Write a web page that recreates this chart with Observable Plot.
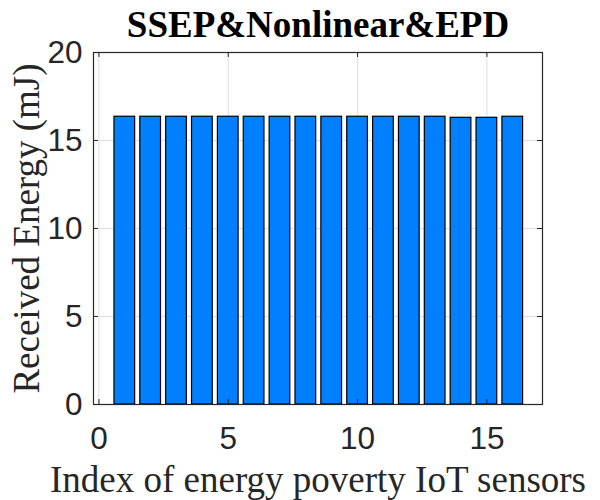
<!DOCTYPE html>
<html>
<head>
<meta charset="utf-8">
<script src="https://cdn.jsdelivr.net/npm/d3@7"></script>
<script src="https://cdn.jsdelivr.net/npm/@observablehq/plot@0.6"></script>
<style>
  html, body { margin: 0; padding: 0; background: #fff; }
</style>
</head>
<body>
<div id="chart"></div>
<script>
// Data
const sensorIndex = [1, 2, 3, 4, 5, 6, 7, 8, 9, 10, 11, 12, 13, 14, 15, 16];
const receivedEnergy = [16.35, 16.35, 16.35, 16.35, 16.35, 16.35, 16.35, 16.35, 16.35, 16.35, 16.35, 16.35, 16.35, 16.29, 16.29, 16.35];
const xTicks = [0, 5, 10, 15];
const yTicks = [0, 5, 10, 15, 20];
const titleText = "SSEP&Nonlinear&EPD";
const xLabelText = "Index of energy poverty IoT sensors";
const yLabelText = "Received Energy (mJ)";

const xDomain = [-0.21, 17.15];
const yDomain = [0, 20];
const barWidth = 0.8;

const rows = sensorIndex.map((k, i) => ({k, v: receivedEnergy[i]}));

const W = 600, H = 500;
const mL = 93, mR = 58, mT = 52, mB = 96;
const tickPx = 5;
const yTickLen = (yDomain[1] - yDomain[0]) * tickPx / (H - mT - mB);
const xTickLen = (xDomain[1] - xDomain[0]) * tickPx / (W - mL - mR);

const axisColor = "#262626";
const gridColor = "#dfdfdf";
const serif = "Liberation Serif, Times New Roman, serif";
const sans = "Liberation Sans, Arial, sans-serif";

const chart = Plot.plot({
  width: W,
  height: H,
  marginLeft: mL,
  marginRight: mR,
  marginTop: mT,
  marginBottom: mB,
  style: {background: "#fff", overflow: "visible"},
  x: {domain: xDomain},
  y: {domain: yDomain},
  marks: [
    Plot.gridX(xTicks, {stroke: gridColor, strokeOpacity: 1}),
    Plot.gridY(yTicks.slice(1, -1), {stroke: gridColor, strokeOpacity: 1}),
    Plot.rectY(rows, {
      x1: d => d.k - barWidth / 2,
      x2: d => d.k + barWidth / 2,
      y1: 0,
      y2: "v",
      fill: "#0080ff",
      stroke: "#000",
      strokeWidth: 1.2
    }),
    // inward ticks
    Plot.ruleX(xTicks, {x: d => d, y1: yDomain[0], y2: yDomain[0] + yTickLen, stroke: axisColor}),
    Plot.ruleX(xTicks, {x: d => d, y1: yDomain[1], y2: yDomain[1] - yTickLen, stroke: axisColor}),
    Plot.ruleY(yTicks, {y: d => d, x1: xDomain[0], x2: xDomain[0] + xTickLen, stroke: axisColor}),
    Plot.ruleY(yTicks, {y: d => d, x1: xDomain[1], x2: xDomain[1] - xTickLen, stroke: axisColor}),
    Plot.frame({stroke: axisColor, strokeWidth: 1.2}),
    Plot.axisX(xTicks, {
      tickSize: 0, tickPadding: 22, label: null,
      fontSize: 31.5, fontFamily: sans, fill: axisColor
    }),
    Plot.axisY(yTicks, {
      tickSize: 0, tickPadding: 11, label: null,
      fontSize: 31.5, fontFamily: sans, fill: axisColor
    }),
    Plot.text([titleText], {
      frameAnchor: "top", dy: -27, text: d => d, textAnchor: "middle", lineAnchor: "middle",
      fontSize: 37, fontWeight: "bold", fontFamily: serif, fill: "#000"
    }),
    Plot.text([xLabelText], {
      frameAnchor: "bottom", dy: 76, text: d => d, textAnchor: "middle", lineAnchor: "middle",
      fontSize: 37, fontFamily: serif, fill: axisColor
    }),
    Plot.text([yLabelText], {
      frameAnchor: "left", dx: -66, rotate: -90, text: d => d, textAnchor: "middle", lineAnchor: "middle",
      fontSize: 37, fontFamily: serif, fill: axisColor
    })
  ]
});
document.getElementById("chart").appendChild(chart);
</script>
</body>
</html>
